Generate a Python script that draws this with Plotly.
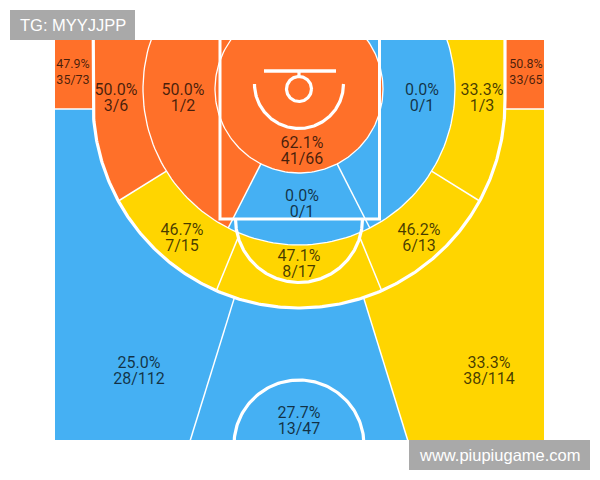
"""Shot chart by court zone: FG% and made/attempts, drawn on a pixel-sized court."""
import numpy as np
import plotly.graph_objects as go

# zones, made and attempts
zones = ["corner_l", "corner_r", "ring_ul", "mid_l", "rim", "mid_c", "mid_r", "ring_ur",
         "ring_ll", "ring_c", "ring_lr", "three_l", "three_c", "three_r"]
made = [35, 33, 3, 1, 41, 0, 0, 1, 7, 8, 6, 28, 13, 38]
attempts = [73, 65, 6, 2, 66, 1, 1, 3, 15, 17, 13, 112, 47, 114]

# where each zone's label sits
label_x = [73, 526, 116, 183, 302, 302, 422, 482, 182, 299, 419, 139, 299, 489]
label_y = [72.5, 72.5, 98.5, 98.5, 151.5, 204.5, 98.5, 98.5, 238.5, 264.5, 238.5, 371.5, 421.5, 371.5]
label_size = [12.5, 12.5, 16, 16, 16, 16, 16, 16, 16, 16, 16, 16, 16, 16]

ORANGE = "#FF7029"
BLUE = "#45B0F3"
YELLOW = "#FFD500"
GREY = "#A9A9A9"
INK = "rgba(0,0,0,0.72)"

# court geometry, page pixels
LEFT, RIGHT, TOP, BOTTOM = 55, 544, 40, 440
CX, CY = 299, 89            # basket
R_RIM_ZONE, R_MID = 84, 156
SIDE = 206                  # corner three distance, also the arc radius
ARC_Y = 102                 # the three point arc is centred here, tangent to the corner lines
CORNER_Y = 109
A_SIDE, A_RING, A_MID, A_THREE = 58.2, 22.3, 27.0, 17.2  # sector edges, deg from straight down
FAR = 480
W, H = 600, 480
INSET = 8                   # the page body keeps its default margin


def color_for(m, a):
    pct = m / a * 100
    if pct < 30:
        return BLUE
    return YELLOW if pct < 47.5 else ORANGE


def zone_color(name):
    i = zones.index(name)
    return color_for(made[i], attempts[i])


def ray(deg, r):
    t = np.radians(deg)
    return CX + r * np.sin(t), CY + r * np.cos(t)


def three_radius(deg):
    """Distance from the basket to the three point line along a ray."""
    t = np.radians(deg)
    s, c = np.abs(np.sin(t)), np.cos(t)
    d = ARC_Y - CY
    r = d * c + np.sqrt(SIDE ** 2 - (d * s) ** 2)
    above = CY + r * c < ARC_Y
    return np.where(above, SIDE / np.maximum(s, 1e-6), r)


def sector(a1, a2, radius):
    deg = np.linspace(a1, a2, 160)
    r = radius(deg) if callable(radius) else np.full_like(deg, radius)
    x, y = ray(deg, r)
    return np.r_[CX, x, CX], np.r_[CY, y, CY]


def area(fig, x, y, color):
    fig.add_trace(go.Scatter(x=x, y=y, mode="lines", fill="toself", fillcolor=color,
                             line=dict(width=0), hoverinfo="skip"))


def stroke(fig, x, y, width):
    fig.add_trace(go.Scatter(x=x, y=y, mode="lines", hoverinfo="skip",
                             line=dict(color="white", width=width)))


def arc(cx, cy, r, a1=0, a2=360):
    t = np.radians(np.linspace(a1, a2, 200))
    return cx + r * np.cos(t), cy + r * np.sin(t)


def px(x):
    return (x - LEFT) / (RIGHT - LEFT)


def py(y):
    return (BOTTOM - y) / (BOTTOM - TOP)


fig = go.Figure()

# beyond the arc
area(fig, *sector(-A_THREE, -130, FAR * 2), zone_color("three_l"))
area(fig, *sector(-A_THREE, A_THREE, FAR * 2), zone_color("three_c"))
area(fig, *sector(A_THREE, 130, FAR * 2), zone_color("three_r"))
area(fig, [LEFT, CX - SIDE, CX - SIDE, LEFT], [TOP, TOP, CORNER_Y, CORNER_Y], zone_color("corner_l"))
area(fig, [CX + SIDE, RIGHT, RIGHT, CX + SIDE], [TOP, TOP, CORNER_Y, CORNER_Y], zone_color("corner_r"))

# long two ring
area(fig, *sector(-A_SIDE, -130, three_radius), zone_color("ring_ul"))
area(fig, *sector(-A_RING, -A_SIDE, three_radius), zone_color("ring_ll"))
area(fig, *sector(-A_RING, A_RING, three_radius), zone_color("ring_c"))
area(fig, *sector(A_RING, A_SIDE, three_radius), zone_color("ring_lr"))
area(fig, *sector(A_SIDE, 130, three_radius), zone_color("ring_ur"))

# short two
area(fig, *sector(-A_MID, -180, R_MID), zone_color("mid_l"))
area(fig, *sector(-A_MID, A_MID, R_MID), zone_color("mid_c"))
area(fig, *sector(A_MID, 180, R_MID), zone_color("mid_r"))
area(fig, *arc(CX, CY, R_RIM_ZONE), zone_color("rim"))

# thin zone borders
stroke(fig, *arc(CX, CY, R_MID), 1.3)
stroke(fig, *arc(CX, CY, R_RIM_ZONE), 1.3)
for sign in (-1, 1):
    for a, r0, r1 in ((A_MID, R_RIM_ZONE, R_MID), (A_RING, 162, three_radius(A_RING)),
                      (A_SIDE, R_MID, three_radius(A_SIDE)), (A_THREE, three_radius(A_THREE), FAR)):
        x0, y0 = ray(sign * a, r0)
        x1, y1 = ray(sign * a, r1)
        stroke(fig, [x0, x1], [y0, y1], 1.5)
stroke(fig, [LEFT, CX - SIDE], [CORNER_Y, CORNER_Y], 1.5)
stroke(fig, [CX + SIDE, RIGHT], [CORNER_Y, CORNER_Y], 1.5)

# court lines
deg = np.linspace(-115, 115, 400)
stroke(fig, *ray(deg, three_radius(deg)), 3.2)
stroke(fig, [220, 220, 379.5, 379.5], [TOP, 219, 219, TOP], 3)
stroke(fig, *arc(CX, 219, 63.5, 0, 180), 3.2)
stroke(fig, *arc(CX, 445, 65), 3.2)
stroke(fig, *arc(CX, 84, 44.5, 0, 180), 3.2)
stroke(fig, *arc(CX, CY, 12.5), 3.2)
stroke(fig, [264, 336], [71, 71], 3.6)
stroke(fig, [CX, CX], [71, 77], 3.2)

# labels
pct_text = [f"{m / a * 100:.1f}%" for m, a in zip(made, attempts)]
ratio_text = [f"{m}/{a}" for m, a in zip(made, attempts)]
for text, off in ((pct_text, -8), (ratio_text, 8)):
    fig.add_trace(go.Scatter(x=label_x, y=[v + off for v in label_y], mode="text", text=text,
                             textposition="middle center", hoverinfo="skip",
                             textfont=dict(family="Roboto", size=label_size, color=INK)))

# watermarks
for x0, x1, y0, y1, tag, size in ((10, 135, 10, 40, "TG: MYYJJPP", 16.5),
                                  (409, 590, 440, 470, "www.piupiugame.com", 16.5)):
    fig.add_shape(type="rect", xref="paper", yref="paper", x0=px(x0), x1=px(x1), y0=py(y0), y1=py(y1),
                  fillcolor=GREY, line_width=0, layer="above")
    fig.add_annotation(xref="paper", yref="paper", x=px((x0 + x1) / 2), y=py((y0 + y1) / 2), text=tag,
                       xanchor="center", yanchor="middle", showarrow=False,
                       font=dict(family="Liberation Sans", size=size, color="white"))

fig.update_layout(width=W - 2 * INSET, height=H - 2 * INSET, showlegend=False,
                  plot_bgcolor="white", paper_bgcolor="white", hovermode=False,
                  margin=dict(l=LEFT - INSET, r=W - INSET - RIGHT, t=TOP - INSET, b=H - INSET - BOTTOM, pad=0))
fig.update_xaxes(range=[LEFT, RIGHT], visible=False)
fig.update_yaxes(range=[BOTTOM, TOP], visible=False)

fig.write_html("out.html")
